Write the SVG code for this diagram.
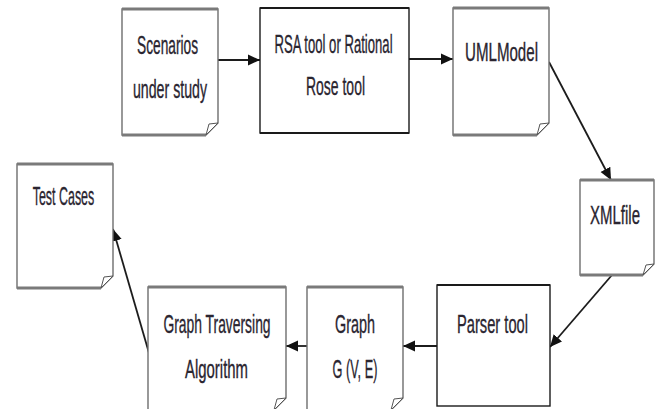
<svg xmlns="http://www.w3.org/2000/svg" width="659" height="409" viewBox="0 0 659 409">
  <style>
    .note { fill: #ffffff; stroke: #6e6e6e; stroke-width: 1.4; stroke-linejoin: miter; }
    .edge { stroke: #7a7a7a; stroke-width: 3; }
    .fold { fill: #ffffff; stroke: #555555; stroke-width: 1; }
    .box { fill: #ffffff; stroke: #1a1a1a; stroke-width: 1.4; }
    .boxtop { stroke: #1a1a1a; stroke-width: 2.2; }
    .label { font-family: "Liberation Sans", Arial, sans-serif; font-size: 25px; fill: #2a2530; stroke: #2a2530; stroke-width: 0.35; text-anchor: middle; }
    .conn { stroke: #1c1c1c; stroke-width: 1.8; fill: none; }
  </style>
  <defs>
    <marker id="arrow" markerUnits="userSpaceOnUse" markerWidth="14" markerHeight="14" viewBox="0 0 14 14" refX="12" refY="7" orient="auto">
      <path d="M0,1.5 L12,7 L0,12.5 Z" fill="#111111"/>
    </marker>
  </defs>

  <rect width="659" height="409" fill="#ffffff"/>

  <!-- connectors -->
  <g id="connectors">
    <line class="conn" x1="218" y1="60" x2="260" y2="60" marker-end="url(#arrow)"/>
    <line class="conn" x1="409" y1="59" x2="453" y2="59" marker-end="url(#arrow)"/>
    <line class="conn" x1="549" y1="62" x2="611" y2="180" marker-end="url(#arrow)"/>
    <line class="conn" x1="612" y1="275" x2="550" y2="347" marker-end="url(#arrow)"/>
    <line class="conn" x1="437" y1="346" x2="403" y2="346" marker-end="url(#arrow)"/>
    <line class="conn" x1="307" y1="346" x2="286" y2="346" marker-end="url(#arrow)"/>
    <line class="conn" x1="149" y1="353" x2="113" y2="229" marker-end="url(#arrow)"/>
  </g>

  <!-- Scenarios under study -->
  <g id="scenarios">
    <path class="note" d="M122,9 H218 V123 L206,135 H122 Z"/>
    <line class="edge" x1="122" y1="9" x2="218" y2="9"/>
    <line class="edge" x1="122" y1="135" x2="206" y2="135"/>
    <path class="fold" d="M206,135 L209,124 L218,123 Z"/>
    <text class="label" transform="translate(167.5,54) scale(0.549,1)">Scenarios</text>
    <text class="label" transform="translate(170,98) scale(0.567,1)">under study</text>
  </g>

  <!-- RSA tool or Rational Rose tool -->
  <g id="rsa-tool">
    <rect class="box" x="260" y="8" width="149" height="125"/>
    <line class="boxtop" x1="260" y1="8" x2="409" y2="8"/>
    <line class="boxtop" x1="260" y1="133" x2="409" y2="133"/>
    <text class="label" transform="translate(333.5,53) scale(0.525,1)">RSA tool or Rational</text>
    <text class="label" transform="translate(335.5,95) scale(0.559,1)">Rose tool</text>
  </g>

  <!-- UML Model -->
  <g id="uml-model">
    <path class="note" d="M453,8 H549 V123 L537,135 H453 Z"/>
    <line class="edge" x1="453" y1="8" x2="549" y2="8"/>
    <line class="edge" x1="453" y1="135" x2="537" y2="135"/>
    <path class="fold" d="M537,135 L540,124 L549,123 Z"/>
    <text class="label" transform="translate(501.5,61) scale(0.604,1)">UMLModel</text>
  </g>

  <!-- XML file -->
  <g id="xml-file">
    <path class="note" d="M580,180 H654 V264 L643,275 H580 Z"/>
    <line class="edge" x1="580" y1="180" x2="654" y2="180"/>
    <line class="edge" x1="580" y1="275" x2="643" y2="275"/>
    <path class="fold" d="M643,275 L646,265 L654,264 Z"/>
    <text class="label" transform="translate(615,224) scale(0.6,1)">XMLfile</text>
  </g>

  <!-- Parser tool -->
  <g id="parser-tool">
    <rect class="box" x="437" y="285" width="113" height="121"/>
    <line class="boxtop" x1="437" y1="285" x2="550" y2="285"/>
    <text class="label" transform="translate(492.5,333) scale(0.587,1)">Parser tool</text>
  </g>

  <!-- Graph G(V, E) -->
  <g id="graph">
    <path class="note" d="M307,287 H403 V398 L391,410 H307 Z"/>
    <line class="edge" x1="307" y1="287" x2="403" y2="287"/>
    <path class="fold" d="M391,410 L394,399 L403,398 Z"/>
    <text class="label" transform="translate(355,333) scale(0.576,1)">Graph</text>
    <text class="label" transform="translate(355,378) scale(0.509,1)">G (V, E)</text>
  </g>

  <!-- Graph Traversing Algorithm -->
  <g id="graph-traversing">
    <path class="note" d="M148,287 H286 V398 L274,410 H148 Z"/>
    <line class="edge" x1="148" y1="287" x2="286" y2="287"/>
    <path class="fold" d="M274,410 L277,399 L286,398 Z"/>
    <text class="label" transform="translate(217,333) scale(0.555,1)">Graph Traversing</text>
    <text class="label" transform="translate(216.5,378) scale(0.597,1)">Algorithm</text>
  </g>

  <!-- Test Cases -->
  <g id="test-cases">
    <path class="note" d="M17,164 H113 V276 L101,288 H17 Z"/>
    <line class="edge" x1="17" y1="164" x2="113" y2="164"/>
    <line class="edge" x1="17" y1="288" x2="101" y2="288"/>
    <path class="fold" d="M101,288 L104,277 L113,276 Z"/>
    <text class="label" transform="translate(63.5,205) scale(0.498,1)">Test Cases</text>
  </g>
</svg>
